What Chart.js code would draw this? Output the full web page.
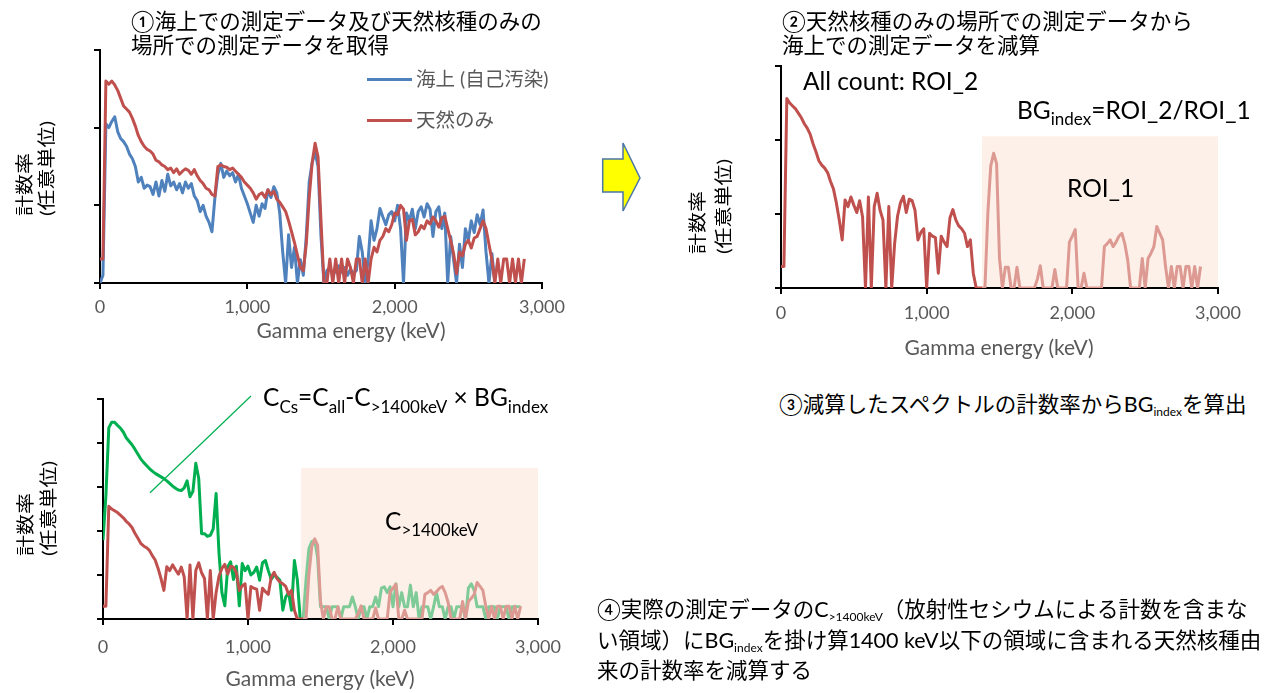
<!DOCTYPE html>
<html lang="ja">
<head>
<meta charset="utf-8">
<script src="https://cdn.jsdelivr.net/npm/chart.js@4.4.0/dist/chart.umd.min.js"></script>
<style>
  html, body { margin:0; padding:0; background:#fff; width:1271px; height:693px; overflow:hidden; }
  body { position:relative; }
  canvas { position:absolute; }
  .t { position:absolute; white-space:nowrap; z-index:5; }
  .jp { font-family:Lato, "Noto Sans CJK JP", sans-serif; color:#000; font-size:21.5px; }
  .lat { font-family:Lato, "Noto Sans CJK JP", sans-serif; color:#000; line-height:1.2; font-size:24.5px; }
  .s { position:relative; }
  .ytitle { position:absolute; white-space:nowrap; z-index:5; transform-origin:0 0;
            font-family:Lato, "Noto Sans CJK JP", sans-serif; font-size:21px; color:#000; }
  .lg { position:absolute; height:3px; width:45px; z-index:5; }
  .lgt { position:absolute; white-space:nowrap; z-index:5; font-family:Lato, "Noto Sans CJK JP", sans-serif;
         font-size:19.5px; color:#595959; line-height:24px; }
  .xt { position:absolute; white-space:nowrap; z-index:5; font-family:Lato, sans-serif; font-size:21px;
        color:#595959; line-height:24px; transform:translateX(-50%); }
  svg { position:absolute; left:0; top:0; z-index:6; }
</style>
</head>
<body>

<canvas id="c1" width="600" height="360" style="left:0;top:0"></canvas>
<canvas id="c2" width="590" height="360" style="left:680px;top:0"></canvas>
<canvas id="c3" width="600" height="323" style="left:0;top:370px"></canvas>

<!-- step headings -->
<div class="t jp" style="left:131px;top:9px;line-height:24px">①海上での測定データ及び天然核種のみの<br>場所での測定データを取得</div>
<div class="t jp" style="left:782px;top:9px;line-height:24px">②天然核種のみの場所での測定データから<br>海上での測定データを減算</div>
<div class="t jp" style="left:779px;top:391px;line-height:26px">③減算したスペクトルの計数率からBG<span class="s" style="font-size:12px;top:4px">index</span>を算出</div>
<div class="t jp" style="left:597px;top:596px;line-height:26.5px">④実際の測定データのC<span class="s" style="font-size:12px;top:4px">&gt;1400keV</span>（放射性セシウムによる計数を含まな<br>い領域）にBG<span class="s" style="font-size:12px;top:4px">index</span>を掛け算1400 keV以下の領域に含まれる天然核種由<br>来の計数率を減算する</div>

<!-- y axis titles -->
<div class="ytitle" style="left:13px;top:216px;line-height:26px;transform:rotate(-90deg) scale(1,0.85)">計数率<br>(任意単位)</div>
<div class="ytitle" style="left:684px;top:254px;line-height:30.5px;transform:rotate(-90deg) scale(1,0.85)">計数率<br>(任意単位)</div>
<div class="ytitle" style="left:12.5px;top:556px;line-height:27px;transform:rotate(-90deg) scale(1,0.85)">計数率<br>(任意単位)</div>

<!-- x axis titles -->
<div class="xt" style="left:351px;top:318px">Gamma energy (keV)</div>
<div class="xt" style="left:999px;top:335px">Gamma energy (keV)</div>
<div class="xt" style="left:320px;top:666px">Gamma energy (keV)</div>

<!-- legend of the first panel -->
<div class="lg" style="left:367px;top:78px;background:#4f81bd"></div>
<div class="lgt" style="left:416px;top:67px">海上 (自己汚染)</div>
<div class="lg" style="left:367px;top:119px;background:#c0504d"></div>
<div class="lgt" style="left:416px;top:108px">天然のみ</div>

<!-- panel annotations -->
<div class="t lat" style="left:803px;top:66px">All count: ROI_2</div>
<div class="t lat" style="left:1017px;top:95px">BG<span class="s" style="font-size:17px;top:6px">index</span>=ROI_2/ROI_1</div>
<div class="t lat" style="left:1067px;top:173px">ROI_1</div>
<div class="t lat" style="left:263px;top:382px">C<span class="s" style="font-size:17px;top:7px">Cs</span>=C<span class="s" style="font-size:17px;top:7px">all</span>-C<span class="s" style="font-size:17px;top:7px">&gt;1400keV</span> × BG<span class="s" style="font-size:17px;top:7px">index</span></div>
<div class="t lat" style="left:385px;top:506px">C<span class="s" style="font-size:17px;top:6px">&gt;1400keV</span></div>

<svg width="1271" height="693">
  <line x1="150" y1="492.7" x2="251" y2="396" stroke="#00b050" stroke-width="1.2"/>
  <polygon points="602.7,159 623,159 623,143 640,178 623,211 623,192 602.7,192"
           fill="#ffff00" stroke="#4a76a8" stroke-width="1.5" stroke-linejoin="miter"/>
</svg>

<script>
// Channel energies (keV)
const energyKeV = [
  0, 20, 40, 60, 80, 100, 120, 140, 160, 180,
  200, 220, 240, 260, 280, 300, 320, 340, 360, 380,
  400, 420, 440, 460, 480, 500, 520, 540, 560, 580,
  600, 620, 640, 660, 680, 700, 720, 740, 760, 780,
  800, 820, 840, 860, 880, 900, 920, 940, 960, 980,
  1000, 1020, 1040, 1060, 1080, 1100, 1120, 1140, 1160, 1180,
  1200, 1220, 1240, 1260, 1280, 1300, 1320, 1340, 1360, 1380,
  1400, 1420, 1440, 1460, 1480, 1500, 1520, 1540, 1560, 1580,
  1600, 1620, 1640, 1660, 1680, 1700, 1720, 1740, 1760, 1780,
  1800, 1820, 1840, 1860, 1880, 1900, 1920, 1940, 1960, 1980,
  2000, 2020, 2040, 2060, 2080, 2100, 2120, 2140, 2160, 2180,
  2200, 2220, 2240, 2260, 2280, 2300, 2320, 2340, 2360, 2380,
  2400, 2420, 2440, 2460, 2480, 2500, 2520, 2540, 2560, 2580,
  2600, 2620, 2640, 2660, 2680, 2700, 2720, 2740, 2760, 2780,
  2800, 2820, 2840, 2860, 2880
];

// Count rate at sea (self-contamination), arbitrary units
const seaSpectrum = [
  0, 0.10, 2.05, 2.00, 2.08, 2.14, 1.95, 1.86, 1.82, 1.76,
  1.66, 1.60, 1.50, 1.30, 1.36, 1.22, 1.26, 1.24, 1.14, 1.30,
  1.12, 1.32, 1.18, 1.40, 1.25, 1.30, 1.20, 1.28, 1.16, 1.30,
  1.22, 1.28, 1.12, 1.06, 0.92, 1.00, 0.86, 0.78, 0.66, 1.10,
  1.40, 1.54, 1.36, 1.44, 1.38, 1.42, 1.30, 1.40, 1.22, 1.12,
  1.02, 0.90, 0.78, 1.00, 0.86, 1.02, 0.96, 1.20, 1.10, 1.24,
  1.16, 0.90, 0.40, 0.00, 0.62, 0.20, 0.46, 0.00, 0.30, 0.10,
  0.60, 1.30, 1.55, 1.68, 1.50, 0.60, 0.00, 0.16, 0.20, 0.10,
  0.16, 0.22, 0.14, 0.20, 0.10, 0.18, 0.12, 0.16, 0.60, 0.40,
  0.00, 0.30, 0.80, 0.55, 0.70, 0.96, 0.85, 0.75, 0.88, 0.92,
  0.80, 1.00, 0.70, 0.00, 0.90, 0.80, 0.95, 0.70, 0.92, 0.98,
  0.85, 1.02, 0.95, 0.60, 0.92, 0.98, 0.70, 0.90, 0.00, 0.60,
  0.30, 0.00, 0.50, 0.20, 0.70, 0.55, 0.80, 0.65, 0.88, 0.75,
  0.94, 0.40, 0.00, 0.38, 0.00, null, null, null, null, null,
  null, null, null, null, null
];

// Count rate where only natural nuclides are present
const naturalSpectrum = [
  0.31, 0.31, 2.60, 2.56, 2.60, 2.55, 2.48, 2.38, 2.28, 2.24,
  2.20, 2.12, 2.02, 1.90, 1.82, 1.76, 1.72, 1.70, 1.66, 1.58,
  1.56, 1.52, 1.50, 1.46, 1.48, 1.42, 1.47, 1.40, 1.44, 1.47,
  1.45, 1.40, 1.46, 1.38, 1.32, 1.28, 1.22, 1.20, 1.14, 1.12,
  1.50, 1.52, 1.50, 1.49, 1.46, 1.48, 1.44, 1.40, 1.36, 1.30,
  1.26, 1.22, 1.16, 1.08, 1.14, 1.16, 1.10, 1.20, 1.14, 1.18,
  1.08, 1.04, 0.98, 0.92, 0.80, 0.66, 0.52, 0.36, 0.20, 0.16,
  0.50, 1.10, 1.55, 1.80, 1.62, 0.80, 0.00, 0.00, 0.31, 0.00,
  0.31, 0.00, 0.31, 0.00, 0.31, 0.20, 0.00, 0.31, 0.31, 0.00,
  0.31, 0.00, 0.31, 0.46, 0.40, 0.55, 0.60, 0.70, 0.66, 0.75,
  0.90, 0.88, 1.00, 0.95, 0.55, 0.80, 0.82, 0.62, 0.66, 0.74,
  0.70, 0.80, 0.76, 0.85, 0.80, 0.72, 0.84, 0.86, 0.70, 0.55,
  0.38, 0.12, 0.40, 0.35, 0.50, 0.55, 0.45, 0.58, 0.60, 0.70,
  0.80, 0.70, 0.50, 0.30, 0.00, 0.31, 0.00, 0.31, 0.31, 0.00,
  0.31, 0.00, 0.31, 0.00, 0.31
];

// Natural-only spectrum after subtracting the at-sea spectrum
const subtractedSpectrum = [
  0.29, 0.29, 2.56, 2.50, 2.46, 2.42, 2.36, 2.30, 2.22, 2.16,
  2.08, 1.95, 1.84, 1.72, 1.66, 1.62, 1.56, 1.44, 1.34, 1.15,
  0.92, 0.65, 1.19, 1.10, 1.23, 1.12, 1.02, 1.18, 0.96, 0.00,
  1.23, 0.00, 1.10, 1.28, 1.05, 0.92, 0.00, 1.10, 0.00, 0.60,
  0.97, 1.15, 1.24, 1.02, 1.20, 1.18, 1.05, 0.65, 0.75, 0.80,
  0.00, 0.74, 0.70, 0.68, 0.20, 0.70, 0.62, 0.56, 0.95, 1.06,
  0.92, 0.84, 0.80, 0.74, 0.56, 0.65, 0.20, 0.00, 0.00, 0.00,
  0.00, 1.01, 1.65, 1.82, 1.68, 0.40, 0.00, 0.28, 0.28, 0.00,
  0.00, 0.28, 0.00, 0.00, 0.00, 0.00, 0.00, 0.00, 0.12, 0.30,
  0.00, 0.00, 0.00, 0.00, 0.25, 0.00, 0.00, 0.00, 0.00, 0.62,
  0.70, 0.79, 0.00, 0.00, 0.20, 0.00, 0.00, 0.00, 0.00, 0.00,
  0.00, 0.56, 0.60, 0.65, 0.56, 0.62, 0.70, 0.74, 0.60, 0.38,
  0.00, 0.00, 0.00, 0.00, 0.40, 0.00, 0.40, 0.47, 0.56, 0.83,
  0.74, 0.65, 0.29, 0.00, 0.29, 0.00, 0.29, 0.29, 0.00, 0.29,
  0.29, 0.00, 0.29, 0.00, 0.29
];

// Actual measured spectrum (includes radiocaesium)
const measuredSpectrum = [
  1.79, 2.80, 4.35, 4.47, 4.47, 4.40, 4.34, 4.25, 4.12, 4.04,
  3.96, 3.86, 3.75, 3.64, 3.56, 3.49, 3.42, 3.36, 3.31, 3.27,
  3.23, 3.19, 3.14, 3.08, 3.02, 2.97, 2.93, 2.92, 2.98, 3.14,
  2.78, 2.90, 3.54, 3.20, 1.94, 1.94, 1.88, 1.90, 2.05, 2.85,
  1.50, 0.60, 0.30, 1.18, 1.30, 0.90, 1.20, 0.30, 1.26, 1.10,
  1.20, 1.00, 1.06, 1.18, 0.88, 1.28, 1.33, 1.10, 0.90, 1.00,
  0.95, 0.88, 0.20, 0.50, 0.60, 0.20, 1.33, 0.90, 0.00, 0.00,
  0.88, 1.60, 1.76, 1.79, 1.40, 0.28, 0.28, 0.28, 0.00, 0.28,
  0.28, 0.28, 0.00, 0.28, 0.28, 0.28, 0.50, 0.28, 0.00, 0.28,
  0.28, 0.00, 0.28, 0.28, 0.50, 0.28, 0.70, 0.73, 0.60, 0.73,
  0.28, 0.80, 0.28, 0.60, 0.28, 0.28, 0.77, 0.28, 0.60, 0.00,
  0.28, 0.28, 0.28, 0.00, 0.28, 0.60, 0.28, 0.28, 0.00, 0.28,
  0.28, 0.00, 0.28, 0.28, 0.28, 0.00, 0.70, 0.80, 0.65, 0.28,
  0.28, 0.28, 0.00, 0.28, 0.28, 0.28, 0.00, 0.28, 0.28, 0.28,
  0.00, 0.28, 0.28, 0.28, 0.28
];

const xTicks = [0, 1000, 2000, 3000];
const roiStartKeV = 1380;
const roiEndKeV = 3000;

const BLUE = '#4f81bd', RED = '#c0504d', GREEN = '#00b050';
const RED_FADED = '#dd9a93', GREEN_FADED = '#7fcb98';
const ROI_FILL = '#fdf0e9';

const pts = vals => energyKeV.map((e, i) => ({ x: e, y: vals[i] }));

// shaded region of interest, drawn behind the spectra
const roiBox = {
  id: 'roiBox',
  beforeDatasetsDraw(chart, args, opts) {
    if (!opts || opts.from == null) return;
    const { ctx, chartArea, scales: { x, y } } = chart;
    const x0 = x.getPixelForValue(opts.from), x1 = x.getPixelForValue(opts.to);
    const y0 = y.getPixelForValue(opts.top);
    ctx.save();
    ctx.fillStyle = ROI_FILL;
    ctx.fillRect(x0, y0, x1 - x0, chartArea.bottom - 1 - y0);
    ctx.restore();
  }
};

function axes(yMax, yAxisW, xAxisH, tickPad) {
  const grid = { display: true, drawOnChartArea: false, drawTicks: true, tickLength: 6, color: '#000', lineWidth: 2 };
  const border = { display: true, color: '#000', width: 2 };
  return {
    x: {
      type: 'linear', min: 0, max: 3000, grid, border,
      afterBuildTicks: s => { s.ticks = xTicks.map(v => ({ value: v })); },
      ticks: { color: '#595959', font: { family: 'Lato', size: 18 }, padding: tickPad,
               maxRotation: 0, autoSkip: false, callback: v => v.toLocaleString('en-US') },
      afterFit: s => { s.height = xAxisH; }
    },
    y: {
      min: 0, max: yMax, grid, border,
      ticks: { display: false, stepSize: 1 },
      afterFit: s => { s.width = yAxisW; }
    }
  };
}

function line(vals, color, order, faded) {
  const ds = { data: pts(vals), borderColor: color, borderWidth: 3, pointRadius: 0,
               tension: 0, spanGaps: false, order, borderJoinStyle: 'round' };
  if (faded) ds.segment = { borderColor: c => (c.p0.parsed.x >= roiStartKeV ? faded : undefined) };
  return ds;
}

function makeChart(id, datasets, scales, padding, roi) {
  return new Chart(document.getElementById(id), {
    type: 'line',
    data: { datasets },
    options: {
      responsive: false, animation: false, devicePixelRatio: 1, events: [],
      layout: { padding },
      scales,
      plugins: { legend: { display: false }, tooltip: { enabled: false }, roiBox: roi || {} }
    },
    plugins: [roiBox]
  });
}

// ① at sea vs natural-only
makeChart('c1',
  [line(naturalSpectrum, RED, 0), line(seaSpectrum, BLUE, 1)],
  axes(3, 10, 40, 7),
  { left: 90, top: 50, right: 58, bottom: 37 });

// ② subtracted spectrum with ROI_1
makeChart('c2',
  [line(subtractedSpectrum, RED, 0, RED_FADED)],
  axes(3, 10, 40, 8),
  { left: 91, top: 66, right: 52, bottom: 32 },
  { from: roiStartKeV, to: roiEndKeV, top: 2.05 });

// ④ measured spectrum and scaled natural background
makeChart('c3',
  [line(subtractedSpectrum, RED, 0, RED_FADED), line(measuredSpectrum, GREEN, 1, GREEN_FADED)],
  axes(5, 10, 40, 11),
  { left: 93, top: 29, right: 62, bottom: 34 },
  { from: 1366, to: roiEndKeV, top: 3.43 });
</script>
</body>
</html>
